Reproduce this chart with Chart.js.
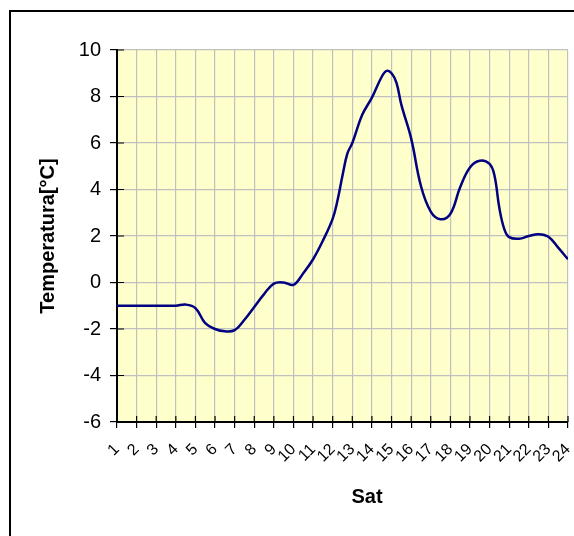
<!DOCTYPE html>
<html>
<head>
<meta charset="utf-8">
<script src="https://cdn.jsdelivr.net/npm/chart.js@4"></script>
<style>
    html, body { margin: 0; padding: 0; background: #fff; }
    #wrap { position: relative; width: 574px; height: 536px; overflow: hidden; }
    #frame { position: absolute; left: 9px; top: 10px; width: 700px; height: 700px; border: 2px solid #000; box-sizing: border-box; }
    #tempChart { position: absolute; left: 0; top: 0; }
</style>
</head>
<body>
<div id="wrap">
    <div id="frame"></div>
    <canvas id="tempChart" width="574" height="536"></canvas>
</div>
<script>
// sample times (hours) and temperatures
const hours = [1, 1.5, 2, 2.5, 3, 3.5, 4, 4.5, 5, 5.5, 6, 6.5, 7, 7.5, 8, 8.5, 9, 9.5, 10, 10.5,
    11, 11.5, 12, 12.25, 12.5, 12.75, 13, 13.5, 14, 14.5, 14.75, 15, 15.25, 15.5, 16, 16.5, 17, 17.5,
    18, 18.5, 19, 19.5, 20, 20.25, 20.5, 20.75, 21, 21.5, 22, 22.5, 23, 23.5, 24];
const temps = [-1.0, -1.0, -1.0, -1.0, -1.0, -1.0, -1.0, -0.95, -1.1, -1.75, -2.0, -2.1, -2.05, -1.6,
    -1.05, -0.5, -0.05, 0.0, -0.1, 0.4, 1.0, 1.8, 2.75, 3.55, 4.6, 5.55, 6.0, 7.2, 7.95, 8.85, 9.1,
    9.0, 8.6, 7.65, 6.2, 4.15, 3.05, 2.72, 2.95, 4.1, 4.95, 5.24, 5.1, 4.6, 3.2, 2.3, 1.95, 1.88, 2.0,
    2.08, 1.97, 1.5, 1.0];
const hourTicks = [1, 2, 3, 4, 5, 6, 7, 8, 9, 10, 11, 12, 13, 14, 15, 16, 17, 18, 19, 20, 21, 22, 23, 24];
const tempTicks = [-6, -4, -2, 0, 2, 4, 6, 8, 10];

const FONT = 'Arial, "Liberation Sans", sans-serif';

// pale yellow plot area, ticks crossing the axes, x axis title
const plotBg = {
    id: 'plotBg',
    beforeDraw(chart) {
        const { ctx, chartArea: a } = chart;
        ctx.save();
        ctx.fillStyle = '#FFFFCC';
        ctx.fillRect(a.left, a.top, a.right - a.left, a.bottom - a.top);
        ctx.restore();
    },
    afterDraw(chart) {
        const { ctx, chartArea: a, scales } = chart;
        ctx.save();
        ctx.strokeStyle = '#000';
        ctx.lineWidth = 1.2;
        ctx.beginPath();
        tempTicks.forEach(v => {
            const y = scales.y.getPixelForValue(v);
            ctx.moveTo(a.left, y);
            ctx.lineTo(a.left + 7, y);
        });
        hourTicks.forEach(v => {
            const x = scales.x.getPixelForValue(v);
            ctx.moveTo(x, a.bottom);
            ctx.lineTo(x, a.bottom - 6);
        });
        ctx.stroke();

        ctx.font = 'bold 20px ' + FONT;
        ctx.fillStyle = '#000';
        ctx.textAlign = 'center';
        ctx.textBaseline = 'middle';
        ctx.fillText('Sat', 367, 497);
        ctx.restore();
    }
};

const ctx = document.getElementById('tempChart').getContext('2d');
new Chart(ctx, {
    type: 'line',
    data: {
        datasets: [{
            data: hours.map((h, i) => ({ x: h, y: temps[i] })),
            borderColor: '#000080',
            borderWidth: 2.5,
            pointRadius: 0,
            fill: false,
            tension: 0.4
        }]
    },
    options: {
        responsive: false,
        animation: false,
        layout: { padding: { left: 0, top: 50, right: 6, bottom: 0 } },
        plugins: {
            legend: { display: false },
            tooltip: { enabled: false }
        },
        scales: {
            x: {
                type: 'linear',
                min: 1,
                max: 24,
                afterFit: (s) => { s.height = 114; s.paddingLeft = 0; s.paddingRight = 0; },
                afterBuildTicks: (s) => { s.ticks = hourTicks.map(v => ({ value: v })); },
                ticks: {
                    autoSkip: false,
                    minRotation: 45,
                    maxRotation: 45,
                    padding: 12,
                    color: '#000',
                    font: { family: FONT, size: 16 }
                },
                grid: { color: '#C0C0C0', tickColor: '#000', tickLength: 6, lineWidth: 1.2 },
                border: { color: '#000', width: 2 }
            },
            y: {
                min: -6,
                max: 10,
                afterFit: (s) => { s.width = 117; },
                afterBuildTicks: (s) => { s.ticks = tempTicks.map(v => ({ value: v })); },
                ticks: {
                    padding: 9,
                    color: '#000',
                    font: { family: FONT, size: 20 }
                },
                title: {
                    display: true,
                    text: 'Temperatura[°C]',
                    color: '#000',
                    font: { family: FONT, size: 20, weight: 'bold' },
                    padding: { top: 36 }
                },
                grid: { color: '#C0C0C0', tickColor: '#000', tickLength: 7, lineWidth: 1.2 },
                border: { color: '#000', width: 2 }
            }
        }
    },
    plugins: [plotBg]
});
</script>
</body>
</html>
